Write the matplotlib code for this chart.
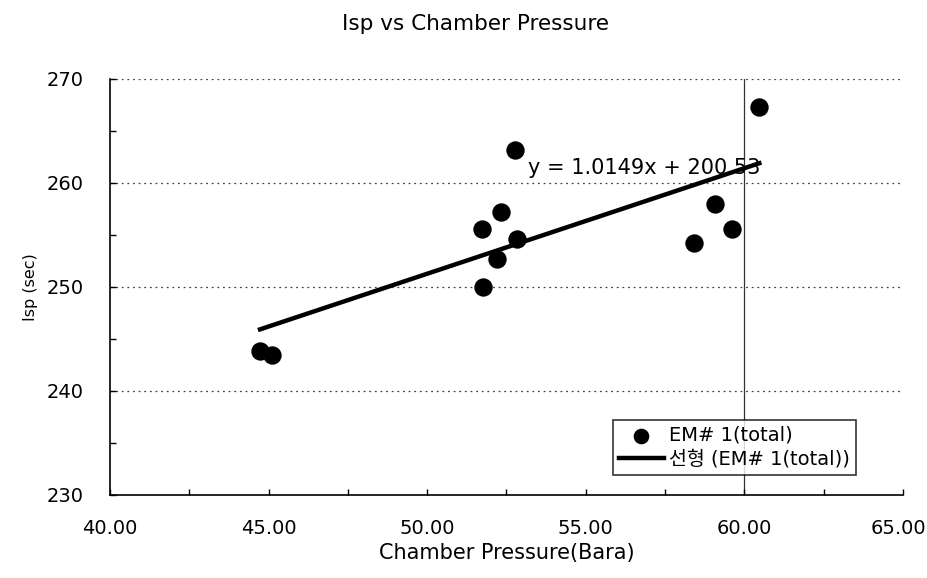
import matplotlib
matplotlib.use("Agg")
import matplotlib.pyplot as plt
import numpy as np
from matplotlib.ticker import MultipleLocator

plt.rcParams['font.family'] = ['DejaVu Sans', 'Noto Sans CJK KR']

# Measured firing data (chamber pressure in bara, Isp in sec)
chamber_pressure = [44.73, 45.10, 51.74, 51.77, 52.19, 52.32, 52.77, 52.84, 58.42, 59.07, 59.60, 60.47]
isp = [243.8, 243.5, 255.6, 250.0, 252.7, 257.2, 263.2, 254.6, 254.2, 258.0, 255.6, 267.3]

# Linear trend line
slope = 1.0149
intercept = 200.53

x_ticks = [40, 45, 50, 55, 60, 65]
x_tick_labels = ["40.00", "45.00", "50.00", "55.00", "60.00", "65.00"]

series_label = "EM# 1(total)"
trend_label = "선형 (EM# 1(total))"

fig = plt.figure(figsize=(9.28, 5.78), dpi=100)
ax = fig.add_axes([110 / 928, 1 - 495 / 578, 793 / 928, 416 / 578])

# dotted horizontal grid
for gy in [240, 250, 260, 270]:
    ax.axhline(gy, color='#444444', lw=0.9, ls=(0, (1.5, 3)), zorder=1)
ax.axvline(60, color='#333333', lw=0.9, zorder=1)

ax.scatter(chamber_pressure, isp, s=175, color='black', linewidths=0, zorder=3, label=series_label)

xfit = np.array([min(chamber_pressure), max(chamber_pressure)])
ax.plot(xfit, slope * xfit + intercept, color='black', lw=3.2, zorder=2, label=trend_label)

ax.text(53.18, 261.45, "y = 1.0149x + 200.53", fontsize=15, va='center', ha='left', zorder=4)

ax.set_xlim(40, 65)
ax.set_ylim(230, 270)
# the last label sits at the figure edge, so it is drawn separately below
ax.set_xticks(x_ticks, labels=x_tick_labels[:-1] + [""])
ax.xaxis.set_minor_locator(MultipleLocator(2.5))
ax.yaxis.set_major_locator(MultipleLocator(10))
ax.yaxis.set_minor_locator(MultipleLocator(5))
ax.tick_params(which='both', direction='in', length=4, width=1, labelsize=14)
ax.tick_params(axis='x', pad=17)
ax.tick_params(axis='y', pad=19)

for side in ['top', 'right']:
    ax.spines[side].set_visible(False)
for side in ['left', 'bottom']:
    ax.spines[side].set_linewidth(1.2)

fig.text(898 / 928, 1 - 528 / 578, x_tick_labels[-1], fontsize=14, ha='center', va='center')

fig.text(476 / 928, 1 - 24 / 578, "Isp vs Chamber Pressure", fontsize=15.5, ha='center', va='center')
ax.set_xlabel("Chamber Pressure(Bara)", fontsize=15, labelpad=4)
ax.set_ylabel("Isp (sec)", fontsize=11.5)
ax.yaxis.set_label_coords(-0.091, 0.5)

leg = ax.legend(loc='upper left', bbox_to_anchor=(613 / 928, 1 - 420 / 578),
                bbox_transform=fig.transFigure, fontsize=14, frameon=True,
                fancybox=False, edgecolor='black', borderpad=0.3, labelspacing=0.25,
                handlelength=2.3, handletextpad=0.3, borderaxespad=0, markerscale=0.85)
leg.get_frame().set_linewidth(1.2)

fig.savefig("out.png", dpi=100)
